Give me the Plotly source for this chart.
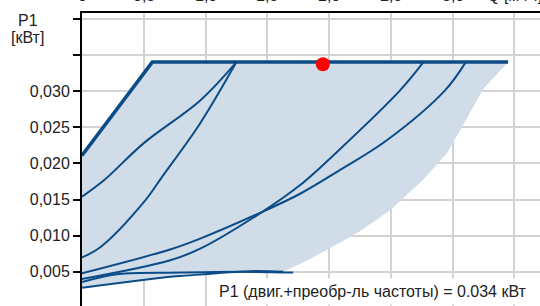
import plotly.graph_objects as go

# ---- data ----
q_max = [0, 0.569, 3.45]
p_max = [0.0211, 0.034, 0.034]

q_c1 = [0, 0.18, 0.5, 0.957, 1.25]
p_c1 = [0.0154, 0.0177, 0.0228, 0.0287, 0.034]

q_c2 = [0, 0.148, 0.504, 0.647, 0.957, 1.25]
p_c2 = [0.0070, 0.0084, 0.0147, 0.0181, 0.02555, 0.034]

q_c3 = [0, 0.714, 0.957, 1.46, 1.766, 2.09, 2.468, 2.939, 3.107]
p_c3 = [0.0048, 0.0081, 0.0096, 0.0133, 0.0158, 0.0191, 0.0232, 0.0301, 0.034]

q_c4 = [0, 0.714, 0.957, 1.46, 1.766, 2.09, 2.575, 2.764]
p_c4 = [0.0040, 0.0066, 0.0082, 0.0133, 0.0170, 0.0220, 0.0301, 0.034]

q_flat = [0, 0.3, 0.8, 1.3, 1.71]
p_flat = [0.0036, 0.0047, 0.0049, 0.0050, 0.0049]

q_min = [0, 0.714, 0.795, 1.36, 1.63]
p_min = [0.0028, 0.00432, 0.00442, 0.0051, 0.0050]

q_edge = [1.63, 1.80, 2.0, 2.25, 2.5, 2.76, 2.95, 3.06, 3.25, 3.45]
p_edge = [0.0050, 0.0064, 0.0082, 0.0106, 0.0136, 0.0177, 0.0213, 0.0245, 0.0303, 0.034]

duty_q = [1.95]
duty_p = [0.0337]

x_ticks = [0, 0.5, 1.0, 1.5, 2.0, 2.5, 3.0, 3.5]
x_labels = ["0", "0,5", "1,0", "1,5", "2,0", "2,5", "3,0", "Q [м³/ч]"]
y_ticks = [0, 0.005, 0.010, 0.015, 0.020, 0.025, 0.030, 0.035, 0.040]
y_labels = ["0", "0,005", "0,010", "0,015", "0,020", "0,025", "0,030", "", ""]

info_text = "P1 (двиг.+преобр-ль частоты) = 0.034 кВт"

LINE = "#0b4c87"
FILL = "#d0dce8"
GRID = "#d3d3d3"
FONT = "Liberation Sans, Arial, sans-serif"

fig = go.Figure()

# shaded operating area
area_q = q_max + q_edge[::-1] + q_min[::-1] + [0]
area_p = p_max + p_edge[::-1] + p_min[::-1] + [p_max[0]]
fig.add_trace(go.Scatter(x=area_q, y=area_p, fill="toself", fillcolor=FILL,
                         line=dict(width=0, color=FILL),
                         mode="lines", hoverinfo="skip"))

for qs, ps in [(q_c1, p_c1), (q_c2, p_c2), (q_c3, p_c3), (q_c4, p_c4),
               (q_flat, p_flat), (q_min, p_min)]:
    fig.add_trace(go.Scatter(x=qs, y=ps, mode="lines",
                             line=dict(color=LINE, width=2, shape="spline", smoothing=1.0)))

fig.add_trace(go.Scatter(x=q_max, y=p_max, mode="lines",
                         line=dict(color=LINE, width=3.5)))

fig.add_trace(go.Scatter(x=duty_q, y=duty_p, mode="markers",
                         marker=dict(color="#ff0000", size=14)))

fig.update_layout(
    width=540, height=306,
    margin=dict(l=82, r=0, t=13, b=0),
    plot_bgcolor="white", paper_bgcolor="white",
    showlegend=False,
    font=dict(family=FONT, size=16, color="#222222"),
)

fig.update_xaxes(
    range=[0, 3.708], side="top", automargin=False,
    tickvals=x_ticks, showticklabels=False, ticks="",
    showline=True, linecolor="black", linewidth=2,
    showgrid=True, gridcolor=GRID, gridwidth=1.5, zeroline=False,
)
fig.update_yaxes(
    range=[0.00028, 0.04079], automargin=False,
    tickvals=y_ticks, ticktext=y_labels,
    ticks="outside", ticklen=7, tickwidth=2, tickcolor="black",
    showline=True, linecolor="black", linewidth=2,
    showgrid=True, gridcolor=GRID, gridwidth=1.5, zeroline=False,
    tickfont=dict(size=16),
)

# top x tick labels (mostly outside the visible page, as in the reference)
for xv, lab in zip(x_ticks, x_labels):
    fig.add_annotation(text=lab, xref="x", yref="paper", x=xv, y=1,
                       showarrow=False, xanchor="center", yanchor="bottom",
                       yshift=7, font=dict(size=16))

# y-axis title
fig.add_annotation(text="P1", xref="paper", yref="paper",
                   x=-0.118, y=1 - (20.5 - 13) / 293, showarrow=False,
                   font=dict(size=16), xanchor="center", yanchor="middle")
fig.add_annotation(text="[кВт]", xref="paper", yref="paper",
                   x=-0.118, y=1 - (37.5 - 13) / 293, showarrow=False,
                   font=dict(size=16), xanchor="center", yanchor="middle")
# zero label (axis starts just above 0)
fig.add_annotation(text="0", xref="paper", yref="y", x=-13 / 458, y=0,
                   showarrow=False, xanchor="right", yanchor="middle",
                   font=dict(size=16))
# info box
fig.add_annotation(text=info_text, xref="paper", yref="paper",
                   x=1.0, y=1 - (291 - 13) / 293, showarrow=False,
                   xanchor="right", yanchor="middle", bgcolor="white",
                   borderpad=4, xshift=-8,
                   font=dict(size=16))

fig.write_html("out.html", config={"displayModeBar": False},
               post_script="document.body.style.margin='0';document.body.style.overflow='hidden';")
